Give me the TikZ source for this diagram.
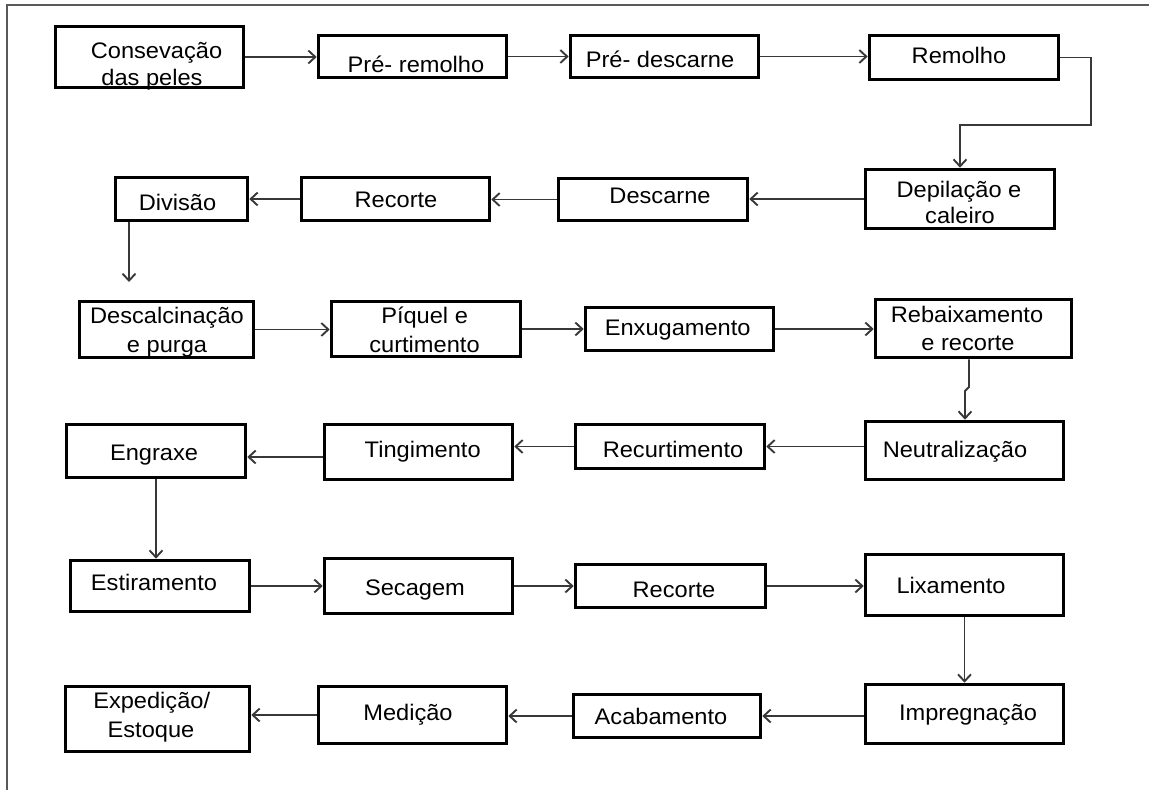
\documentclass[tikz,border=0pt]{standalone}
\usepackage{fontspec}
\setmainfont{Liberation Sans}[FakeStretch=1.05]
\usetikzlibrary{arrows.meta}
\begin{document}
\begin{tikzpicture}[x=1pt,y=-1pt,
 box/.style={draw=black,line width=3.6pt,inner sep=0pt,rectangle},
 txt/.style={inner sep=0pt,anchor=base,font=\fontsize{22.5}{27}\selectfont},
 conn/.style={draw=black!78,line width=1.9pt,-{Straight Barb[length=7pt,width=13pt,line width=1.9pt]}},
 frame/.style={draw=black!65,line width=1.8pt}]
\useasboundingbox (0,0) rectangle (1149,790);
\draw[frame] (1149,5) -- (7,5) -- (7,790);

% boxes
\node[box,minimum width=188pt,minimum height=61pt] (b1) at (149.5,57) {};
\node[box,minimum width=188pt,minimum height=42pt] (b2) at (412.5,56.5) {};
\node[box,minimum width=188pt,minimum height=42pt] (b3) at (664.5,56.5) {};
\node[box,minimum width=189pt,minimum height=44pt] (b4) at (964,57.5) {};
\node[box,minimum width=189pt,minimum height=59pt] (b5) at (960,199) {};
\node[box,minimum width=189pt,minimum height=42pt] (b6) at (653,199.5) {};
\node[box,minimum width=188pt,minimum height=43pt] (b7) at (395.5,199) {};
\node[box,minimum width=132pt,minimum height=43pt] (b8) at (181.5,199) {};
\node[box,minimum width=174pt,minimum height=56pt] (b9) at (166.5,329.5) {};
\node[box,minimum width=189pt,minimum height=55pt] (b10) at (426,329) {};
\node[box,minimum width=188pt,minimum height=43pt] (b11) at (679.5,329) {};
\node[box,minimum width=196pt,minimum height=58pt] (b12) at (973.5,328.5) {};
\node[box,minimum width=198pt,minimum height=58pt] (b13) at (964.5,450.5) {};
\node[box,minimum width=189pt,minimum height=44pt] (b14) at (670,446.5) {};
\node[box,minimum width=188pt,minimum height=55pt] (b15) at (418.5,452) {};
\node[box,minimum width=179pt,minimum height=53pt] (b16) at (156,451) {};
\node[box,minimum width=179pt,minimum height=51pt] (b17) at (160,586) {};
\node[box,minimum width=188pt,minimum height=55pt] (b18) at (418.5,586) {};
\node[box,minimum width=190pt,minimum height=43pt] (b19) at (670.5,586) {};
\node[box,minimum width=198pt,minimum height=61pt] (b20) at (964.5,585) {};
\node[box,minimum width=198pt,minimum height=59pt] (b21) at (964.5,714) {};
\node[box,minimum width=187pt,minimum height=43pt] (b22) at (667,716) {};
\node[box,minimum width=188pt,minimum height=57pt] (b23) at (412.5,715) {};
\node[box,minimum width=184pt,minimum height=65pt] (b24) at (157.5,719) {};

% texts
\node[txt] (t1a) at (156.5,58) {Consevação};
\node[txt] (t1b) at (152,85) {das peles};
\node[txt] (t2) at (416,72) {Pré- remolho};
\node[txt] (t3) at (660,67) {Pré- descarne};
\node[txt] (t4) at (959,63) {Remolho};
\node[txt] (t5a) at (959,197) {Depilação e};
\node[txt] (t5b) at (960,223) {caleiro};
\node[txt] (t6) at (660,203) {Descarne};
\node[txt] (t7) at (396,207) {Recorte};
\node[txt] (t8) at (177.5,210) {Divisão};
\node[txt] (t9a) at (167,323) {Descalcinação};
\node[txt] (t9b) at (167,352) {e purga};
\node[txt] (t10a) at (424.6,323) {Píquel e};
\node[txt] (t10b) at (424.5,352) {curtimento};
\node[txt] (t11) at (677.7,335) {Enxugamento};
\node[txt] (t12a) at (967,322) {Rebaixamento};
\node[txt] (t12b) at (968,350) {e recorte};
\node[txt] (t13) at (955,457) {Neutralização};
\node[txt] (t14) at (673,457) {Recurtimento};
\node[txt] (t15) at (422.7,457) {Tingimento};
\node[txt] (t16) at (154,460) {Engraxe};
\node[txt] (t17) at (154,590) {Estiramento};
\node[txt] (t18) at (415,595) {Secagem};
\node[txt] (t19) at (674,597) {Recorte};
\node[txt] (t20) at (951,593) {Lixamento};
\node[txt] (t21) at (968,720) {Impregnação};
\node[txt] (t22) at (661,724) {Acabamento};
\node[txt] (t23) at (408,720) {Medição};
\node[txt] (t24a) at (151.7,708) {Expedição/};
\node[txt] (t24b) at (151,737) {Estoque};

% connectors
\coordinate (c1) at (1091,125);
\coordinate (c2) at (129,282);
\coordinate (c3) at (969,387);
\coordinate (c4) at (965,391);
\coordinate (y5) at (0,457);
\draw[conn] (b1.east) -- (b1.east -| b2.west);
\draw[conn] (b2.east) -- (b2.east -| b3.west);
\draw[conn] (b3.east) -- (b3.east -| b4.west);
\draw[conn] (b4.east) -| (c1) -| (b5.north);
\draw[conn] (b5.west) -- (b5.west -| b6.east);
\draw[conn] (b6.west) -- (b6.west -| b7.east);
\draw[conn] (b7.west) -- (b7.west -| b8.east);
\draw[conn] (b8.south -| c2) -- (c2);
\draw[conn] (b9.east) -- (b9.east -| b10.west);
\draw[conn] (b10.east) -- (b10.east -| b11.west);
\draw[conn] (b11.east) -- (b11.east -| b12.west);
\draw[conn] (b12.south -| c3) -- (c3) -- (c4) -- (b13.north -| c4);
\draw[conn] (b13.west |- b14.east) -- (b14.east);
\draw[conn] (b14.west) -- (b14.west -| b15.east);
\draw[conn] (b15.west |- y5) -- (b16.east |- y5);
\draw[conn] (b16.south) -- (b16.south |- b17.north);
\draw[conn] (b17.east) -- (b17.east -| b18.west);
\draw[conn] (b18.east) -- (b18.east -| b19.west);
\draw[conn] (b19.east) -- (b19.east -| b20.west);
\draw[conn] (b20.south) -- (b20.south |- b21.north);
\draw[conn] (b21.west |- b22.east) -- (b22.east);
\draw[conn] (b22.west) -- (b22.west -| b23.east);
\draw[conn] (b23.west) -- (b23.west -| b24.east);
\end{tikzpicture}
\end{document}
